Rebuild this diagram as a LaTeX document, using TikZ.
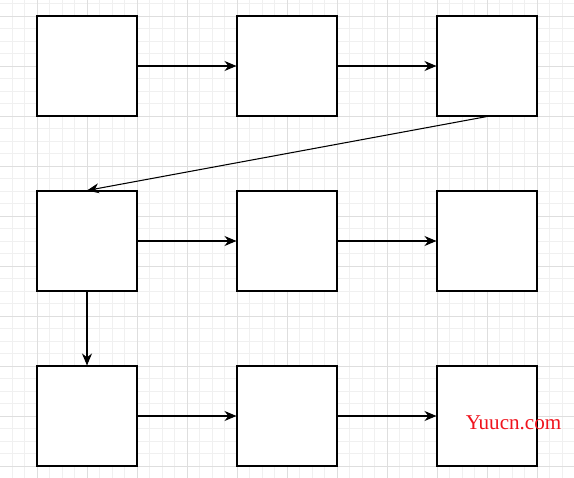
\documentclass[tikz,border=0pt]{standalone}
\usepackage{fontspec}
\usepackage{xcolor}
\usetikzlibrary{arrows.meta,positioning}
\newfontfamily\markfont{Liberation Serif}
\definecolor{gridlo}{RGB}{240,240,240}
\definecolor{gridhi}{RGB}{222,222,222}
\definecolor{markred}{RGB}{240,20,30}

\begin{document}
\begin{tikzpicture}[
    box/.style={draw=black,fill=white,line width=0.6pt,minimum size=2cm,inner sep=0pt},
    arr/.style={-{Stealth[length=2.4mm,width=2mm]},line width=0.6pt},
    minorgrid/.style={draw=gridlo,line width=0.4pt},
    majorgrid/.style={draw=gridhi,line width=0.5pt}]
   \useasboundingbox (0,0) rectangle (11.48,-9.56);
   % background grid
   \begin{scope}
     \clip (0,0) rectangle (11.48,-9.56);
     \fill[white] (0,0) rectangle (11.48,-9.56);
     \draw[minorgrid,shift={(0.74,-0.32)},step=0.25cm] (-1,-10) grid (11,1);
     \draw[majorgrid,shift={(0.74,-0.32)},step=1cm] (-1,-10) grid (11,1);
   \end{scope}
   % boxes
   \node[box] (b1) at (1.74,-1.32) {};
   \node[box] (b2) at (5.74,-1.32) {};
   \node[box] (b3) at (9.74,-1.32) {};
   \node[box] (b4) at (1.74,-4.82) {};
   \node[box] (b5) at (5.74,-4.82) {};
   \node[box] (b6) at (9.74,-4.82) {};
   \node[box] (b7) at (1.74,-8.32) {};
   \node[box] (b8) at (5.74,-8.32) {};
   \node[box] (b9) at (9.74,-8.32) {};
   % connectors
   \draw[arr] (b1)--(b2);
   \draw[arr] (b2)--(b3);
   \draw[arr] (b3.south)--(b4.north);
   \draw[arr] (b4)--(b5);
   \draw[arr] (b5)--(b6);
   \draw[arr] (b4.south)--(b7.north);
   \draw[arr] (b7)--(b8);
   \draw[arr] (b8)--(b9);
   \node[font=\markfont\fontsize{12}{14}\selectfont,text=markred,inner sep=0pt] (wm) at (10.27,-8.46) {Yuucn.com};
\end{tikzpicture}
\end{document}
